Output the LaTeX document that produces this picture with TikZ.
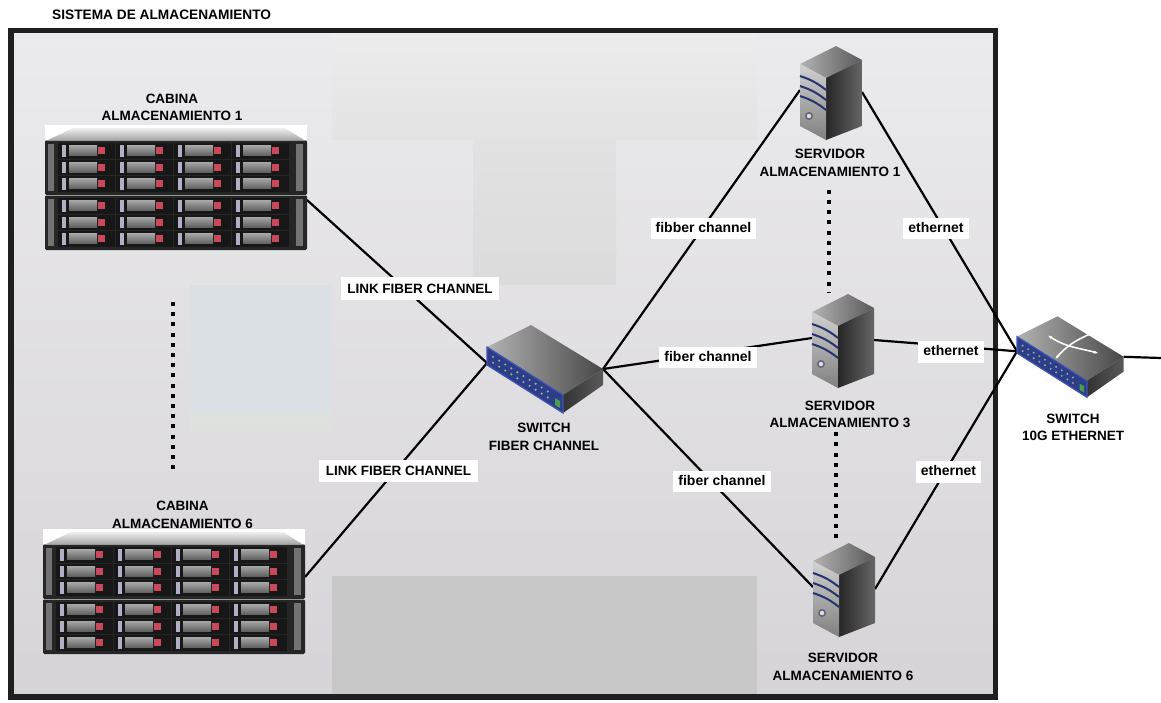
\documentclass[tikz,border=0pt]{standalone}
\usepackage{fontspec}
\setmainfont{Liberation Sans}
\usetikzlibrary{calc,arrows.meta}

\pgfdeclarelayer{bg}
\pgfdeclarelayer{wires}
\pgfsetlayers{bg,wires,main}

\definecolor{framecol}{HTML}{1F1F1F}
\definecolor{bgtop}{HTML}{EBEAEC}
\definecolor{bgbot}{HTML}{D6D4D8}
\definecolor{patchAtop}{HTML}{ECECEC}
\definecolor{patchAbot}{HTML}{E3E3E3}
\definecolor{patchBtop}{HTML}{E2E2E2}
\definecolor{patchBbot}{HTML}{DBDBDB}
\definecolor{patchC}{HTML}{DAE0E3}
\definecolor{patchCstrip}{HTML}{DDE2DD}
\definecolor{patchD}{HTML}{C8C8C8}
\definecolor{rackdark}{HTML}{262626}
\definecolor{baydark}{HTML}{171717}
\definecolor{handle}{HTML}{B4AEC4}
\definecolor{driveled}{HTML}{C9495A}
\definecolor{stripe}{HTML}{27336E}
\definecolor{portblue}{HTML}{2C3D8A}
\definecolor{portedge}{HTML}{4257B0}
\definecolor{portdot}{HTML}{9DAA8E}

% flat switch body, drawn in a 116 x 88 box
\newcommand\switchbody{%
  \shade[left color=black!30, right color=black!72]
    (0,18) -- (44,-4) -- (116,40) -- (76,66) -- cycle;
  \shade[left color=black!80, right color=black!65]
    (76,66) -- (116,40) -- (116,56) -- (76,84) -- cycle;
  \fill[portblue] (0,18) -- (76,66) -- (76,84) -- (0,36) -- cycle;
  \draw[portedge, line width=1.2pt] (0,18) -- (76,66) -- (76,84) -- (0,36) -- cycle;
  \foreach \t in {0.08,0.16,...,0.85}{
    \fill[portdot] (76*\t,24+48*\t) circle (1.2pt);
    \fill[portdot] (76*\t,30+48*\t) circle (1.2pt);
  }
  \fill[green!45!black!70] (68,69) -- (73,72) -- (73,79) -- (68,76) -- cycle;
  \coordinate (-left) at (0,34);
  \coordinate (-right) at (116,40);
}

\tikzset{
  x=1pt, y=-1pt,
  lbl/.style={font=\fontsize{13.5}{17.5}\selectfont\bfseries, align=center, inner sep=0pt},
  linklbl/.style={fill=white, font=\fontsize{13.5}{16}\selectfont\bfseries,
    inner xsep=6.5pt, inner ysep=6.5pt, text height=9.7pt, text depth=0pt},
  chlbl/.style={fill=white, font=\fontsize{14}{16}\selectfont\bfseries,
    inner xsep=5pt, inner ysep=4pt, text height=10.2pt, text depth=3pt},
  wire/.style={line width=2.2pt, black},
  dotline/.style={line width=4.8pt, black, dash pattern=on 4pt off 6.2pt},
  cabinet/.pic={
    \fill[white] (0,0) rectangle (262,15);
    \shade[top color=black!6, bottom color=black!35]
      (3,15) -- (28,3) -- (240,3) -- (259,15) -- cycle;
    \foreach \u in {0,1}{
      \begin{scope}[shift={(0,15+\u*55)}]
        \fill[rackdark, rounded corners=1.5pt] (0,0) rectangle (262,55);
        \fill[black!40] (1,0) rectangle (261,1.4);
        \fill[black!55] (3,4) rectangle (9,51);
        \fill[black!55] (251,4) rectangle (258,51);
        \foreach \c in {0,...,3}{
          \foreach \r in {0,1,2}{
            \begin{scope}[shift={(13+\c*58,3+\r*16.5)}]
              \fill[baydark] (0,0) rectangle (57,15.5);
              \fill[handle] (4,2) rectangle (8,13.5);
              \shade[top color=black!35, bottom color=black!62] (11,2.5) rectangle (39,12.5);
              \fill[driveled] (40,4) rectangle (47,11);
            \end{scope}
          }
        }
      \end{scope}
    }
    \coordinate (-upper) at (262,48);
    \coordinate (-lower) at (262,75);
    \coordinate (-bottom) at (131,125);
  },
  server/.pic={
    \shade[left color=black!30, right color=black!65]
      (0,24) -- (36,6) -- (62,20) -- (26,38) -- cycle;
    \shade[left color=black!85, right color=black!60]
      (26,38) -- (62,20) -- (62,86) -- (26,100) -- cycle;
    \shade[top color=black!18, bottom color=black!50]
      (0,24) -- (26,38) -- (26,100) -- (0,86) -- cycle;
    \foreach \o in {12,22,32}
      \draw[stripe, line width=2pt] (0,24+\o) to[bend left=10] (26,38+\o);
    \fill[black!60] (9,76) circle (4pt);
    \fill[blue!15!white] (9,76) circle (2.2pt);
    \coordinate (-left) at (0,50);
    \coordinate (-right) at (62,52);
    \coordinate (-top) at (20,4);
  },
  switch/.pic={\switchbody},
  switchx/.pic={
    \switchbody
    \draw[white, line width=1.6pt, {Stealth[length=4pt]}-{Stealth[length=4pt]}]
      (34,17) .. controls (54,30) and (66,30) .. (88,36);
    \draw[white, line width=1.6pt, {Stealth[length=4pt]}-{Stealth[length=4pt]}]
      (42,42) .. controls (54,28) and (64,22) .. (82,14);
  }
}

\begin{document}
\begin{tikzpicture}
\useasboundingbox (0,0) rectangle (1161,702);

\begin{pgfonlayer}{bg}
  \fill[white] (0,0) rectangle (1161,702);
  \shade[top color=bgtop, bottom color=bgbot] (11,31) rectangle (995,697);
  \shade[top color=patchAtop, bottom color=patchAbot] (332,33) rectangle (757,139);
  \shade[top color=patchBtop, bottom color=patchBbot] (473,139) rectangle (616,284);
  \fill[patchC] (190,285) rectangle (332,414);
  \fill[patchCstrip] (190,414) rectangle (332,431);
  \fill[patchD] (332,576) rectangle (757,697);
  \draw[framecol, line width=5.5pt] (11,30.5) rectangle (995.5,697);
\end{pgfonlayer}

% devices
\pic (cab1) at (45,125) {cabinet};
\pic (cab6) at (43,529) {cabinet};
\pic (swfc) at (487,329) {switch};
\pic (srv1) at (800,40) {server};
\pic (srv3) at (812,288) {server};
\pic (srv6) at (813,537) {server};
\pic[scale=0.92] (sw10g) at (1017,320) {switchx};
\coordinate (uplink) at (1161,358);

% captions
\node[lbl, anchor=west, font=\fontsize{13.7}{15}\selectfont\bfseries] (title) at (52,14.5) {SISTEMA DE ALMACENAMIENTO};
\node[lbl] (cab1lbl) at (172,107.5) {CABINA\\ALMACENAMIENTO 1};
\node[lbl] (cab6lbl) at (182.5,515) {CABINA\\ALMACENAMIENTO 6};
\node[lbl] (swfclbl) at (544,437) {SWITCH\\FIBER CHANNEL};
\node[lbl] (srv1lbl) at (830,163) {SERVIDOR\\ALMACENAMIENTO 1};
\node[lbl] (srv3lbl) at (840,414.5) {SERVIDOR\\ALMACENAMIENTO 3};
\node[lbl] (srv6lbl) at (843,667) {SERVIDOR\\ALMACENAMIENTO 6};
\node[lbl] (sw10glbl) at (1073,427.5) {SWITCH\\10G ETHERNET};

% connectors
\begin{pgfonlayer}{wires}
  \draw[wire] (cab1-lower) -- (swfc-left);
  \draw[wire] (cab6-upper) -- (swfc-left);
  \draw[wire] (swfc-right) -- (srv1-left);
  \draw[wire] (swfc-right) -- (srv3-left);
  \draw[wire] (swfc-right) -- (srv6-left);
  \draw[wire] (srv1-right) -- (sw10g-left);
  \draw[wire] (srv3-right) -- (sw10g-left);
  \draw[wire] (srv6-right) -- (sw10g-left);
  \draw[wire] (sw10g-right) -- (uplink);
  \draw[dotline] ($(cab1-bottom)+(-3,52)$) -- ($(cab1-bottom)+(-3,225)$);
  \draw[dotline] ($(srv1lbl.south)+(-1,13)$) -- ($(srv1lbl.south |- srv3-top)+(-1,0)$);
  \draw[dotline] ($(srv3lbl.south)+(-4,4)$) -- ($(srv3lbl.south |- srv6-top)+(-4,0)$);
\end{pgfonlayer}

% connector labels
\node[linklbl] (link1) at (420,288.5) {LINK FIBER CHANNEL};
\node[linklbl] (link6) at (398.5,471) {LINK FIBER CHANNEL};
\node[chlbl] (fc1) at (703.5,228.5) {fibber channel};
\node[chlbl] (fc3) at (708,357.5) {fiber channel};
\node[chlbl] (fc6) at (722,481.5) {fiber channel};
\node[chlbl] (eth1) at (936,228.5) {ethernet};
\node[chlbl] (eth3) at (951,352) {ethernet};
\node[chlbl] (eth6) at (948.5,472) {ethernet};
\end{tikzpicture}
\end{document}
